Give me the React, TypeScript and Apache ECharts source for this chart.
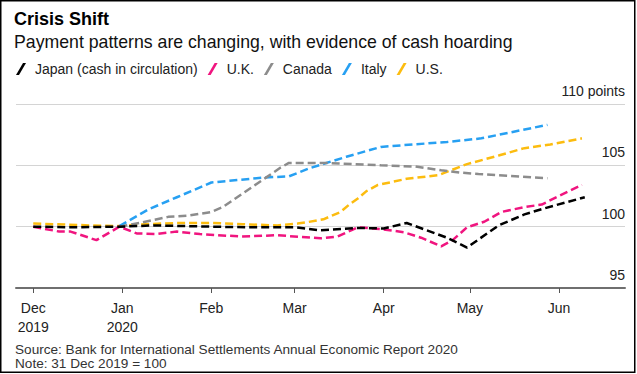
import React, { useEffect, useRef } from 'react';
import * as echarts from 'echarts';

const FONT = '"Liberation Sans", Arial, Helvetica, sans-serif';

const titleText = 'Crisis Shift';
const subtitleText = 'Payment patterns are changing, with evidence of cash hoarding';
const sourceText = 'Source: Bank for International Settlements Annual Economic Report 2020';
const noteText = 'Note: 31 Dec 2019 = 100';

const seriesNames = ['Japan (cash in circulation)', 'U.K.', 'Canada', 'Italy', 'U.S.'];
const seriesColors = ['#000000', '#f0157f', '#8c8c8c', '#27a0f2', '#fcbc0f'];

const tickDates = ['2019-12-01', '2020-01-01', '2020-02-01', '2020-03-01', '2020-04-01', '2020-05-01', '2020-06-01'];
const monthNames = ['Jan', 'Feb', 'Mar', 'Apr', 'May', 'Jun', 'Jul', 'Aug', 'Sep', 'Oct', 'Nov', 'Dec'];
const xMinDate = '2019-11-25';
const xMaxDate = '2020-06-24';
const yTicks = [95, 100, 105, 110];

const japan: [string, number][] = [
  ['2019-12-01', 100.0], ['2019-12-15', 99.95], ['2019-12-31', 100.0], ['2020-01-12', 100.1],
  ['2020-02-01', 100.0], ['2020-02-15', 99.95], ['2020-03-01', 99.95], ['2020-03-10', 99.7],
  ['2020-03-23', 99.9], ['2020-04-01', 99.85], ['2020-04-09', 100.3], ['2020-04-23', 99.1],
  ['2020-04-30', 98.3], ['2020-05-11', 100.1], ['2020-05-20', 101.0], ['2020-05-27', 101.5],
  ['2020-06-10', 102.4],
];

const uk: [string, number][] = [
  ['2019-12-01', 100.0], ['2019-12-10', 99.6], ['2019-12-14', 99.6], ['2019-12-23', 98.9],
  ['2019-12-31', 100.0], ['2020-01-06', 99.45], ['2020-01-13', 99.4], ['2020-01-20', 99.6],
  ['2020-01-28', 99.4], ['2020-02-11', 99.2], ['2020-02-24', 99.3], ['2020-03-10', 99.05],
  ['2020-03-16', 99.2], ['2020-03-23', 99.95], ['2020-03-31', 99.8], ['2020-04-08', 99.55],
  ['2020-04-14', 99.1], ['2020-04-21', 98.4], ['2020-04-25', 98.9], ['2020-04-30', 99.95],
  ['2020-05-06', 100.4], ['2020-05-12', 101.2], ['2020-05-20', 101.6], ['2020-05-26', 101.8],
  ['2020-06-01', 102.5], ['2020-06-09', 103.4],
];

const canada: [string, number][] = [
  ['2019-12-31', 100.0], ['2020-01-08', 100.35], ['2020-01-17', 100.8], ['2020-01-24', 100.9],
  ['2020-02-01', 101.2], ['2020-02-05', 101.6], ['2020-02-10', 102.4], ['2020-02-15', 103.2],
  ['2020-02-20', 104.0], ['2020-02-25', 104.8], ['2020-02-28', 105.2], ['2020-03-11', 105.2],
  ['2020-03-31', 105.0], ['2020-04-12', 104.9], ['2020-04-21', 104.6], ['2020-04-28', 104.4],
  ['2020-05-04', 104.3], ['2020-05-28', 103.95],
];

const italy: [string, number][] = [
  ['2019-12-31', 100.05], ['2020-01-10', 101.4], ['2020-01-20', 102.4], ['2020-02-01', 103.6],
  ['2020-02-10', 103.8], ['2020-02-19', 104.0], ['2020-02-28', 104.1], ['2020-03-06', 104.75],
  ['2020-03-19', 105.7], ['2020-03-31', 106.5], ['2020-04-11', 106.7], ['2020-04-23', 106.9],
  ['2020-05-05', 107.2], ['2020-05-28', 108.3],
];

const us: [string, number][] = [
  ['2019-12-01', 100.25], ['2019-12-09', 100.2], ['2019-12-21', 100.1], ['2019-12-31', 100.05],
  ['2020-01-09', 100.2], ['2020-01-20', 100.3], ['2020-02-01', 100.3], ['2020-02-12', 100.2],
  ['2020-02-24', 100.1], ['2020-03-02', 100.25], ['2020-03-05', 100.35], ['2020-03-11', 100.6],
  ['2020-03-17', 101.2], ['2020-03-20', 101.8], ['2020-03-23', 102.3], ['2020-03-26', 102.9],
  ['2020-03-30', 103.4], ['2020-04-09', 103.9], ['2020-04-20', 104.2], ['2020-04-30', 105.1],
  ['2020-05-11', 105.8], ['2020-05-20', 106.4], ['2020-05-29', 106.7], ['2020-06-09', 107.2],
];

const seriesData = [japan, uk, canada, italy, us];

const ts = (s: string) => Date.parse(s + 'T00:00:00Z');

export default function App() {
  const ref = useRef<HTMLDivElement>(null);

  useEffect(() => {
    if (!ref.current) return;
    const chart = echarts.init(ref.current, undefined, { renderer: 'svg' });
    const tickValues = tickDates.map(ts);

    const option: any = {
      animation: false,
      backgroundColor: '#ffffff',
      grid: { left: 16, right: 12, top: 104, bottom: 86 },
      legend: {
        data: seriesNames,
        left: 16,
        top: 62,
        padding: 0,
        itemWidth: 10,
        itemHeight: 12,
        itemGap: 10,
        icon: 'path://M0,12L7,0L10,0L3,12Z',
        itemStyle: { borderWidth: 0 },
        textStyle: { fontSize: 14, color: '#222', fontFamily: FONT, padding: [0, 0, 0, 4] },
      },
      xAxis: {
        type: 'value',
        min: ts(xMinDate),
        max: ts(xMaxDate),
        axisLine: { show: true, onZero: false, lineStyle: { color: '#6f6f6f', width: 2 } },
        axisTick: { show: true, customValues: tickValues, length: 5, lineStyle: { color: '#555', width: 1 } },
        axisLabel: {
          customValues: tickValues,
          margin: 10,
          fontSize: 14,
          lineHeight: 19,
          color: '#222',
          fontFamily: FONT,
          formatter: (v: number) => {
            const d = new Date(v);
            const m = d.getUTCMonth();
            const name = monthNames[m];
            if (m === 11 || m === 0) return name + '\n' + d.getUTCFullYear();
            return name;
          },
        },
        splitLine: { show: false },
      },
      yAxis: {
        type: 'value',
        position: 'right',
        min: 95,
        max: 110,
        interval: 5,
        axisLine: { show: false },
        axisTick: { show: false },
        axisLabel: {
          inside: true,
          margin: 0,
          verticalAlign: 'bottom',
          padding: [0, 0, 6, 0],
          fontSize: 14,
          color: '#222',
          fontFamily: FONT,
          formatter: (v: number) => (v === yTicks[yTicks.length - 1] ? v + ' points' : String(v)),
        },
        splitLine: { lineStyle: { color: '#d4d4d4', width: 1 } },
      },
      series: seriesNames.map((name, i) => ({
        name,
        type: 'line',
        data: seriesData[i].map(([d, v]) => [ts(d), v]),
        showSymbol: false,
        symbol: 'none',
        color: seriesColors[i],
        itemStyle: { color: seriesColors[i] },
        lineStyle: { color: seriesColors[i], width: 2.5, type: [8, 4] },
        z: 10 - i,
      })),
      graphic: [
        {
          type: 'rect',
          shape: { x: 0.75, y: 0.75, width: 634, height: 371.5 },
          style: { fill: 'none', stroke: '#000', lineWidth: 1.5 },
          silent: true,
        },
        {
          type: 'text',
          left: 14,
          top: 10,
          style: { text: titleText, fontSize: 18, fontWeight: 'bold', fontFamily: FONT, fill: '#000' },
        },
        {
          type: 'text',
          left: 14,
          top: 33,
          style: { text: subtitleText, fontSize: 17.7, fontFamily: FONT, fill: '#111' },
        },
        {
          type: 'text',
          left: 15,
          top: 342,
          style: { text: sourceText, fontSize: 13.6, fontFamily: FONT, fill: '#333' },
        },
        {
          type: 'text',
          left: 15,
          top: 356,
          style: { text: noteText, fontSize: 13.6, fontFamily: FONT, fill: '#333' },
        },
      ],
    };

    chart.setOption(option);
    return () => chart.dispose();
  }, []);

  return (
    <div
      ref={ref}
      style={{ position: 'fixed', left: 0, top: 0, width: 637, height: 374 }}
    />
  );
}
